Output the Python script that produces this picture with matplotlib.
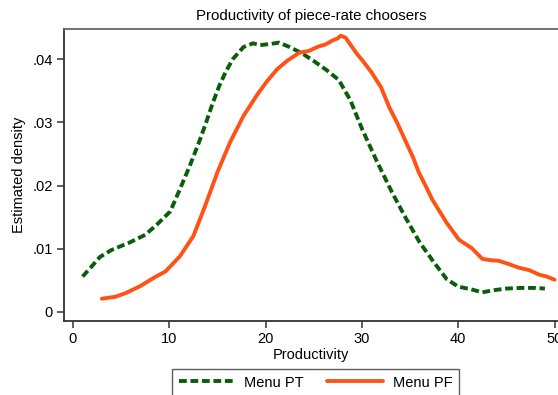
import matplotlib
matplotlib.use("Agg")
import matplotlib.pyplot as plt

plt.rcParams['font.family'] = ['Liberation Sans', 'DejaVu Sans']

pt_x = [1, 2, 2.8, 4, 5.9, 7.5, 8.7, 10.1, 11.1, 12.1, 13.2, 13.9, 14.5, 15.2, 15.9, 16.6, 17.7, 18.7, 19.4, 20.5, 21.4, 22.5, 23.8, 25, 26.3, 27.6, 28.8, 30, 31.5, 33.1, 34.5, 36, 37.5, 38.8, 40, 41.3, 42.5, 43.5, 45, 46.5, 48, 49]
pt_y = [0.0056, 0.0073, 0.0087, 0.0098, 0.0110, 0.0122, 0.0138, 0.0159, 0.0194, 0.0230, 0.0273, 0.0303, 0.0330, 0.0358, 0.0381, 0.0400, 0.0419, 0.0425, 0.0422, 0.0424, 0.0426, 0.0419, 0.0409, 0.0397, 0.0383, 0.0367, 0.0335, 0.0290, 0.0240, 0.0190, 0.0150, 0.0110, 0.0078, 0.0052, 0.0040, 0.0036, 0.0031, 0.0034, 0.0037, 0.0038, 0.0038, 0.0037]

pf_x = [3, 4.4, 5.5, 7, 8.5, 9.6, 11.1, 12.5, 13.7, 15.0, 16.3, 17.7, 19.1, 20.1, 21.2, 22.3, 23.5, 24.5, 25.5, 26.2, 26.9, 27.5, 27.8, 28.3, 29.4, 30.2, 31, 32, 32.8, 33.7, 34.6, 35.3, 35.9, 36.6, 37.3, 38.8, 40.1, 41.4, 42.5, 43.3, 44.2, 45.2, 46.3, 47.4, 48.4, 49.2, 50]
pf_y = [0.0021, 0.0024, 0.0030, 0.0041, 0.0055, 0.0064, 0.0088, 0.0120, 0.0167, 0.0221, 0.0268, 0.0310, 0.0343, 0.0364, 0.0384, 0.0398, 0.0410, 0.0413, 0.0420, 0.0423, 0.0429, 0.0433, 0.0437, 0.0434, 0.0410, 0.0395, 0.0379, 0.0355, 0.0325, 0.0298, 0.0268, 0.0245, 0.0221, 0.0200, 0.0178, 0.0141, 0.0114, 0.0101, 0.0084, 0.0082, 0.0081, 0.0076, 0.0070, 0.0066, 0.0059, 0.0056, 0.0051]

x_ticks = [0, 10, 20, 30, 40, 50]
y_ticks = [0, 0.01, 0.02, 0.03, 0.04]
y_tick_labels = ["0", ".01", ".02", ".03", ".04"]
series_names = ["Menu PT", "Menu PF"]

green = "#0a5e0a"
orange = "#ff5316"

fig = plt.figure(figsize=(5.58, 3.95), dpi=100)
ax = fig.add_axes([64/558, 1-321/395, 494/558, 292/395])

ax.plot(pt_x, pt_y, color=green, lw=2.8, ls=(0, (2.0, 0.95)), label=series_names[0], dash_capstyle='butt')
ax.plot(pf_x, pf_y, color=orange, lw=2.8, label=series_names[1], solid_capstyle='round', solid_joinstyle='round')

ax.set_xlim(-0.93, 50.36)
ax.set_ylim(-0.00143, 0.04476)
ax.set_xticks(x_ticks)
ax.set_yticks(y_ticks)
ax.set_yticklabels(y_tick_labels)

for s in ['left', 'bottom']:
    ax.spines[s].set_color('#333333')
    ax.spines[s].set_linewidth(1.3)
ax.spines['top'].set_color('#666666')
ax.spines['top'].set_linewidth(1.3)
ax.spines['right'].set_visible(False)
ax.tick_params(direction='out', length=5, width=1.1, color='#333333', labelsize=10.5, pad=3)

ax.set_title("Productivity of piece-rate choosers", fontsize=10.8, pad=6.5)
ax.set_xlabel("Productivity", fontsize=10.5, labelpad=1)
ax.set_ylabel("Estimated density", fontsize=10.5, labelpad=5)

leg = fig.legend(loc='upper left', bbox_to_anchor=(172/558, 1-369/395), ncol=2, frameon=True,
                 fancybox=False, edgecolor='#333333', fontsize=10.5, handlelength=3.8,
                 columnspacing=1.6, handletextpad=0.7, borderpad=0.45, borderaxespad=0)
leg.get_frame().set_linewidth(1.0)

fig.savefig("out.png", dpi=100)
